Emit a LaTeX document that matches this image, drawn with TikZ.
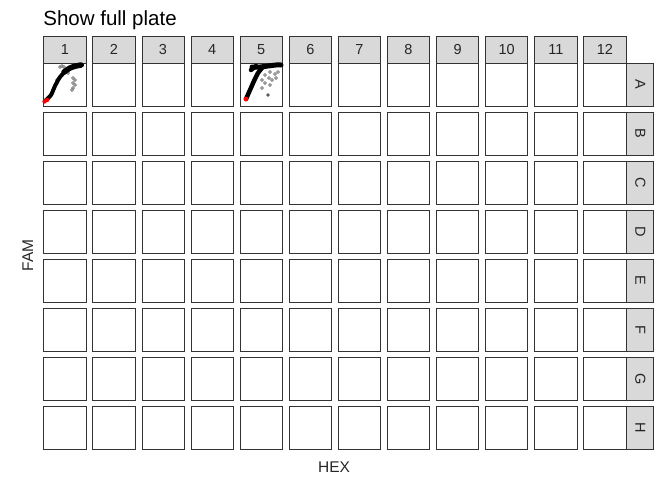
\documentclass[tikz,border=0pt]{standalone}
\usepackage{fontspec}
\setmainfont{Liberation Sans}
\definecolor{stripgrey}{HTML}{D9D9D9}
\definecolor{framegrey}{HTML}{333333}
\begin{document}
\begin{tikzpicture}[x=1pt,y=-1pt,thick]
	\tikzstyle{every node} = [align=center,inner sep=0pt]
	\tikzstyle{panel} = [draw=framegrey,line width=0.8pt,fill=white,minimum width=42.2pt,minimum height=42.2pt,anchor=north west]
	\tikzstyle{colstrip} = [draw=framegrey,line width=0.8pt,fill=stripgrey,minimum width=42.2pt,minimum height=26.8pt,anchor=south west,font=\fontsize{14.5}{16}\selectfont,text=black!85]
	\tikzstyle{rowstrip} = [draw=framegrey,line width=0.8pt,fill=stripgrey,minimum width=27pt,minimum height=42.2pt,anchor=north west,font=\fontsize{14.5}{16}\selectfont,text=black!85]
	\tikzstyle{curve} = [black,line width=4pt,line cap=round,line join=round]
	\tikzstyle{spot} = [draw=gray!80!black,fill=gray!40,line width=0.5pt]
	\useasboundingbox (0,0) rectangle (672,480);
	
	\node (title) [anchor=base west,font=\fontsize{20.5}{24}\selectfont] at (43,25) {Show full plate};
	
	\foreach \row [count=\r from 0] in {A,B,C,D,E,F,G,H} {
		\foreach \col in {1,...,12}
			\node (p-\row-\col) [panel] at ({43.3+(\col-1)*49.1},{63.3+\r*49}) {};
		\node (s-\row) [rowstrip] at (p-\row-12.north east) {\rotatebox{-90}{\row}};
	}
	\foreach \col in {1,...,12}
		\node (h-\col) [colstrip] at (p-A-\col.north west) {\col};
	
	\node (xaxis) [anchor=base,font=\fontsize{15.5}{18}\selectfont,text=black!85] at (334,472) {HEX};
	\node (yaxis) [anchor=base,rotate=90,font=\fontsize{15.5}{18}\selectfont,text=black!85] at (33,255.5) {FAM};
	
	% well A1
	\foreach \x/\y in {60/67,62/66,64/67,57/80,55/85,68/73,73/78,75/80,73/83,75/85,73/88,72/90}
		\draw [spot] (\x,\y) circle (1.5);
	\draw [curve] plot [smooth] coordinates {(46,100) (51,95) (55,86) (60,77) (66,71) (73,67) (82,65)};
	\draw [curve,line width=5.5pt] plot [smooth] coordinates {(64,72) (70,68) (76,66) (81,65)};
	\fill [red] (44.5,101.5) circle (2.2) (47,100) circle (2.2);
	
	% well A5
	\foreach \x/\y in {262/80,265/75,269/78,270/72,272/80,275/74,278/72,276/78,265/83,270/85,262/88}
		\draw [spot] (\x,\y) circle (1.5);
	\fill [gray!70!black] (268,95) circle (1.8);
	\draw [curve,line width=4.5pt] plot [smooth] coordinates {(246,99) (250,90) (254,81) (258,73) (262,68)};
	\draw [curve,line width=5pt] plot [smooth] coordinates {(252,67) (260,67) (268,66) (276,65) (281,65)};
	\draw [curve,line width=4.5pt] (251,70) -- (256,66);
	\fill [red] (246,99) circle (2.4);
\end{tikzpicture}
\end{document}
